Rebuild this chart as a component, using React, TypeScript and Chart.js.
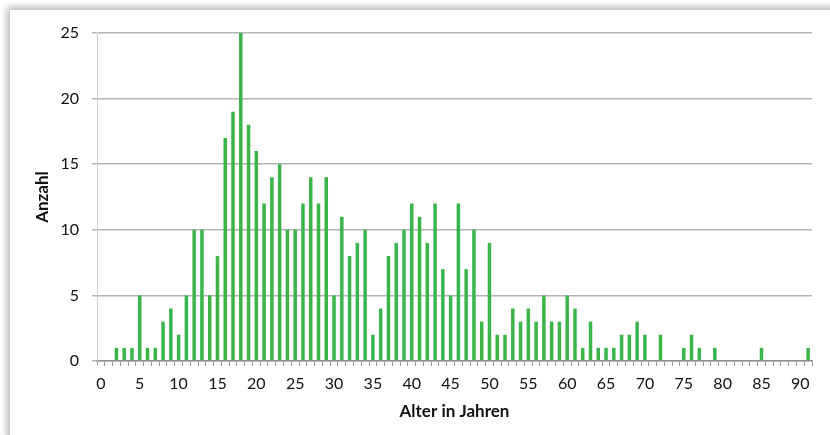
import React, { useEffect, useRef } from "react";
import { Chart, registerables } from "chart.js";

Chart.register(...registerables);

const ages: string[] = Array.from({ length: 92 }, (_, i) => String(i));

const counts: number[] = [
  0, 0, 1, 1, 1, 5, 1, 1, 3, 4,
  2, 5, 10, 10, 5, 8, 17, 19, 25, 18,
  16, 12, 14, 15, 10, 10, 12, 14, 12, 14,
  5, 11, 8, 9, 10, 2, 4, 8, 9, 10,
  12, 11, 9, 12, 7, 5, 12, 7, 10, 3,
  9, 2, 2, 4, 3, 4, 3, 5, 3, 3,
  5, 4, 1, 3, 1, 1, 1, 2, 2, 3,
  2, 0, 2, 0, 0, 1, 2, 1, 0, 1,
  0, 0, 0, 0, 0, 1, 0, 0, 0, 0,
  0, 1,
];

const yTicks: number[] = [0, 5, 10, 15, 20, 25];
const xTitle = "Alter in Jahren";
const yTitle = "Anzahl";

export default function App() {
  const ref = useRef<HTMLCanvasElement | null>(null);

  useEffect(() => {
    document.body.style.margin = "0";
    const canvas = ref.current;
    if (!canvas) return;
    const font = "Lato, 'Open Sans', sans-serif";
    const chart = new Chart(canvas, {
      type: "bar",
      data: {
        labels: ages,
        datasets: [
          {
            data: counts,
            backgroundColor: "rgb(57,181,74)",
            borderWidth: 0,
            barPercentage: 0.45,
            categoryPercentage: 1,
          },
        ],
      },
      options: {
        responsive: false,
        animation: false,
        layout: { padding: { left: 0, top: 23, right: 18, bottom: 0 } },
        plugins: {
          legend: { display: false },
          tooltip: { enabled: false },
        },
        scales: {
          x: {
            offset: true,
            grid: {
              display: true,
              offset: true,
              drawOnChartArea: false,
              drawTicks: true,
              tickLength: 5,
              color: "#9a9a9a",
            },
            border: { display: true, color: "#8f8f8f", width: 1.5 },
            ticks: {
              autoSkip: false,
              maxRotation: 0,
              minRotation: 0,
              padding: 8,
              color: "#111111",
              font: { family: font, size: 16 },
              callback: (_v: any, idx: number) => (idx % 5 === 0 ? ages[idx] : ""),
            },
            title: {
              display: true,
              text: xTitle,
              color: "#111111",
              font: { family: font, size: 17, weight: "bold" },
              padding: { top: 0, bottom: 13 },
            },
            afterFit: (scale: any) => {
              scale.height = 74;
            },
          },
          y: {
            min: 0,
            max: 25,
            afterBuildTicks: (scale: any) => {
              scale.ticks = yTicks.map((v) => ({ value: v }));
            },
            grid: {
              color: "#b4b4b4",
              lineWidth: 1.5,
              tickLength: 5,
              drawTicks: true,
            },
            border: { display: true, color: "#cfcfcf", width: 1 },
            ticks: {
              padding: 13,
              color: "#111111",
              font: { family: font, size: 16 },
            },
            title: {
              display: true,
              text: yTitle,
              color: "#111111",
              font: { family: font, size: 17, weight: "bold" },
              padding: { top: 22, bottom: 0 },
            },
            afterFit: (scale: any) => {
              scale.width = 87;
            },
          },
        },
      },
    });
    return () => chart.destroy();
  }, []);

  return (
    <div
      style={{
        position: "fixed",
        left: 0,
        top: 0,
        width: 830,
        height: 435,
        background: "#ffffff",
        overflow: "hidden",
      }}
    >
      <div
        style={{
          position: "absolute",
          left: 10,
          top: 10,
          width: 830,
          height: 435,
          background: "#ffffff",
          boxShadow: "-3px -3px 7px rgba(0,0,0,0.28)",
        }}
      >
        <canvas ref={ref} width={820} height={425} style={{ display: "block" }} />
      </div>
    </div>
  );
}
